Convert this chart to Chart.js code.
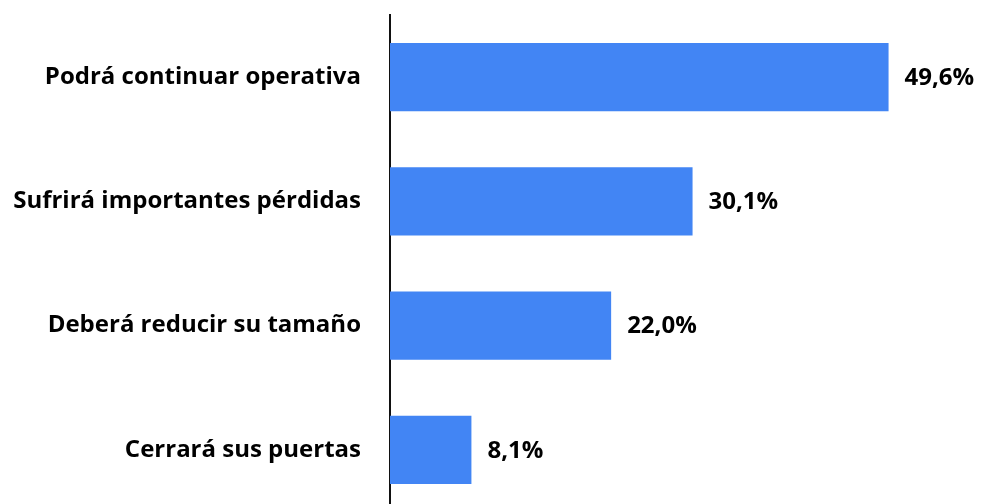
<!DOCTYPE html>
<html>
<head>
<meta charset="utf-8">
<script src="https://cdn.jsdelivr.net/npm/chart.js@4"></script>
<style>
  html, body { margin: 0; padding: 0; background: #fff; overflow: hidden; }
  #wrap { width: 981px; height: 512px; }
</style>
</head>
<body>
<div id="wrap"><canvas id="chart"></canvas></div>
<script>
// Data
const categories = ['Podrá continuar operativa', 'Sufrirá importantes pérdidas', 'Deberá reducir su tamaño', 'Cerrará sus puertas'];
const values = [49.6, 30.1, 22.0, 8.1];

const FONT = '"Open Sans", Lato, sans-serif';
const FONT_SIZE = 24;

// Value labels at the end of each bar
const valueLabels = {
    id: 'valueLabels',
    afterDatasetsDraw(chart) {
        const ctx = chart.ctx;
        const meta = chart.getDatasetMeta(0);
        ctx.save();
        ctx.font = 'bold ' + FONT_SIZE + 'px ' + FONT;
        ctx.fillStyle = '#000';
        ctx.textAlign = 'left';
        ctx.textBaseline = 'middle';
        meta.data.forEach((bar, i) => {
            const txt = values[i].toFixed(1).replace('.', ',') + '%';
            ctx.fillText(txt, bar.x + 16, bar.y + 1);
        });
        ctx.restore();
    }
};

new Chart(document.getElementById('chart'), {
    type: 'bar',
    data: {
        labels: categories,
        datasets: [{
            data: values,
            backgroundColor: '#4285f4',
            borderWidth: 0,
            barPercentage: 1,
            categoryPercentage: 0.548
        }]
    },
    options: {
        indexAxis: 'y',
        responsive: true,
        maintainAspectRatio: false,
        animation: false,
        layout: { padding: { top: 15, right: 8, left: 0, bottom: 0 } },
        plugins: {
            legend: { display: false },
            tooltip: { enabled: false }
        },
        scales: {
            x: {
                display: false,
                min: 0,
                max: 58
            },
            y: {
                afterFit(scale) {
                    scale.width = 390;
                    scale.paddingTop = 0;
                    scale.paddingBottom = 0;
                },
                grid: { display: false, drawTicks: false },
                border: { display: true, color: '#111', width: 2 },
                ticks: {
                    color: '#000',
                    padding: 29,
                    font: { family: FONT, size: FONT_SIZE, weight: 'bold' }
                }
            }
        }
    },
    plugins: [valueLabels]
});
</script>
</body>
</html>
